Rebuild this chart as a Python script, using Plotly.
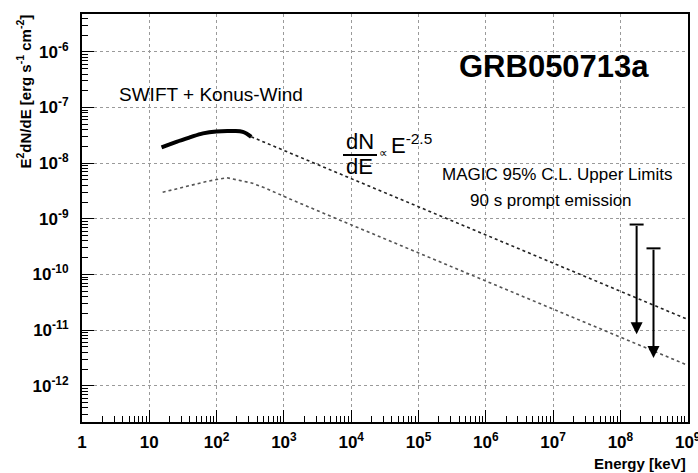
import numpy as np
import plotly.graph_objects as go

# ---------------- data ----------------
# SWIFT + Konus-Wind spectral fit (solid, keV / erg s^-1 cm^-2)
fit_e = [15.2, 25.3, 39.8, 62.7, 99, 174, 245, 327]
fit_f = [1.92e-8, 2.42e-8, 2.90e-8, 3.43e-8, 3.72e-8, 3.77e-8, 3.66e-8, 2.98e-8]
# extrapolation dN/dE ~ E^-2.5 (dashed)
ext_e = [327, 9.5e8]
ext_f = [2.98e-8, 1.6e-11]
# lower curve (dotted)
low_e = [15.8, 36, 73.6, 141, 234, 331, 550, 1096, 5250, 9.5e8]
low_f = [3.0e-9, 3.85e-9, 4.74e-9, 5.48e-9, 4.8e-9, 4.41e-9, 3.5e-9, 2.41e-9, 1.08e-9, 2.4e-12]
# MAGIC 95% C.L. upper limits
ul_e = [1.74e8, 3.1e8]
ul_f = [7.9e-10, 2.95e-10]

x_tickvals = [10.0 ** i for i in range(10)]
x_ticktext = ["1", "10"] + [f"10<sup>{i}</sup>" for i in range(2, 10)]
y_tickvals = [10.0 ** (-i) for i in range(6, 13)]
y_ticktext = [f"10<sup>-{i}</sup>" for i in range(6, 13)]

# ---------------- style ----------------
FONT = "Liberation Sans, Arial, Helvetica, sans-serif"
ARROW_DECADES = 1.97
L, R, T, B = 82, 10, 14, 51
W, H = 698, 473
PW, PH = W - L - R, H - T - B


def px(x):
    return (x - L) / PW


def py(y):
    return (H - B - y) / PH


fig = go.Figure()

fig.add_trace(go.Scatter(x=low_e, y=low_f, mode="lines",
                         line=dict(color="#555555", width=1.6, dash="dot"),
                         showlegend=False, hoverinfo="skip"))
fig.add_trace(go.Scatter(x=ext_e, y=ext_f, mode="lines",
                         line=dict(color="#222222", width=1.6, dash="3px,3px"),
                         showlegend=False, hoverinfo="skip"))
fig.add_trace(go.Scatter(x=fit_e, y=fit_f, mode="lines",
                         line=dict(color="black", width=4, shape="spline"),
                         showlegend=False, hoverinfo="skip"))
fig.add_trace(go.Scatter(x=ul_e, y=ul_f, mode="markers",
                         marker=dict(symbol="line-ew", size=10, color="black",
                                     line=dict(color="black", width=2)),
                         showlegend=False, hoverinfo="skip"))

annotations = []
for e, f in zip(ul_e, ul_f):
    annotations.append(dict(
        x=np.log10(e), y=np.log10(f) - ARROW_DECADES, xref="x", yref="y",
        ax=np.log10(e), ay=np.log10(f), axref="x", ayref="y",
        showarrow=True, arrowhead=2, arrowsize=1.2, arrowwidth=2,
        arrowcolor="black", text="", standoff=0, startstandoff=0))


def label(text, x, y, size, xanchor="center", yanchor="middle", **kw):
    return dict(text=text, x=px(x), y=py(y), xref="paper", yref="paper",
                xanchor=xanchor, yanchor=yanchor, showarrow=False,
                font=dict(family=FONT, size=size, color="black"), **kw)


annotations += [
    label("<b>GRB050713a</b>", 554, 66, 31),
    label("SWIFT + Konus-Wind", 211, 95, 19),
    label("dN", 360, 141, 22),
    label("dE", 359, 166, 22),
    label("\u221d", 383, 153, 12),
    label("E<sup>-2.5</sup>", 389, 144, 22, xanchor="left"),
    label("MAGIC 95% C.L. Upper Limits", 557, 174, 17),
    label("90 s prompt emission", 551, 200, 17),
    label("<b>Energy [keV]</b>", 688, 463, 15, xanchor="right"),
    label("<b>E<sup>2</sup>dN/dE [erg s<sup>-1</sup> cm<sup>-2</sup>]</b>", 35, 12, 15,
          xanchor="right", yanchor="top", textangle=-90),
]

shapes = [dict(type="line", xref="paper", yref="paper", x0=px(343), x1=px(377),
               y0=py(155), y1=py(155), line=dict(color="black", width=2))]

axis_common = dict(
    type="log", showline=True, linewidth=2, linecolor="black", mirror=True,
    ticks="inside", ticklen=12, tickwidth=1, tickcolor="black",
    showgrid=True, gridcolor="#9a9a9a", gridwidth=1, griddash="dot",
    zeroline=False, automargin=False,
    minor=dict(ticks="inside", ticklen=6, tickwidth=1, tickcolor="black",
               dtick="D1", showgrid=False),
    tickfont=dict(family=FONT, size=17, color="black", weight="bold"),
    tickmode="array",
)

fig.update_layout(
    width=W, height=H,
    margin=dict(l=L, r=R, t=T, b=B, autoexpand=False),
    paper_bgcolor="white", plot_bgcolor="white",
    xaxis=dict(range=[0, 9.004], tickvals=x_tickvals, ticktext=x_ticktext,
               ticklabelstandoff=4, ticklabeloverflow="allow", **axis_common),
    yaxis=dict(range=[-12.65, -5.32], tickvals=y_tickvals, ticktext=y_ticktext,
               ticklabelstandoff=8, **axis_common),
    annotations=annotations, shapes=shapes,
    showlegend=False,
)

fig.write_html("out.html")
